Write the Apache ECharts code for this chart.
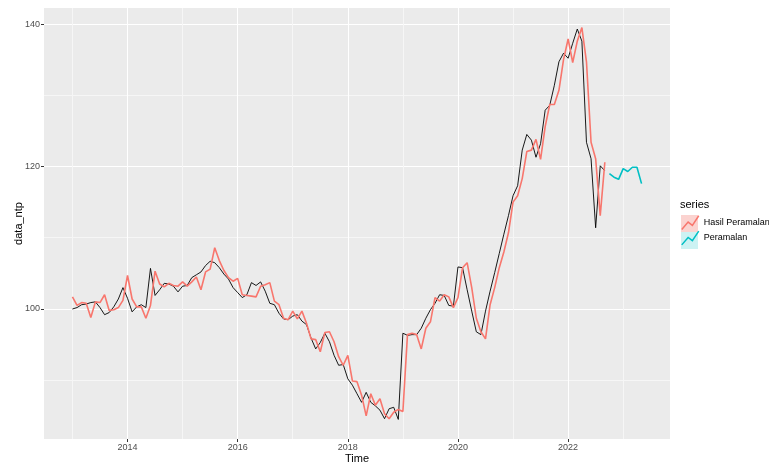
<!DOCTYPE html>
<html>
<head>
<meta charset="utf-8">
<script src="https://cdn.jsdelivr.net/npm/echarts@6/dist/echarts.min.js"></script>
<style>
  html, body {margin: 0; padding: 0; background: #fff;}
  #chart {width: 769px; height: 464px;}
</style>
</head>
<body>
<div id="chart"></div>
<script>
// monthly series, first point = Jan 2013
const startYear = 2013
const actual = [
  100.0, 100.2, 100.6, 100.7, 100.9, 101.0, 100.2, 99.2, 99.5, 100.3, 101.4, 103.0,
  101.5, 99.6, 100.3, 100.6, 100.2, 105.7, 101.9, 102.7, 103.6, 103.5, 103.2, 102.4,
  103.2, 103.3, 104.4, 104.8, 105.2, 106.1, 106.7, 106.5, 105.8, 104.9, 104.2, 103.0,
  102.3, 101.6, 102.0, 103.7, 103.3, 103.8, 102.5, 100.8, 100.6, 99.4, 98.6, 98.5,
  99.0, 99.2, 98.3, 97.8, 95.9, 94.4, 95.3, 96.6, 95.4, 93.5, 92.1, 92.2,
  90.2, 89.3, 88.1, 86.9, 88.3, 86.9, 86.4, 85.8, 84.6, 86.0, 86.2, 84.5,
  96.6, 96.3, 96.4, 96.4, 97.3, 98.7, 99.9, 100.8, 102.0, 101.9, 100.5, 100.4,
  105.9, 105.8, 102.7, 99.7, 96.8, 96.4, 99.7, 102.5, 105.1, 107.8, 110.5, 113.1,
  115.9, 117.3, 122.3, 124.5, 123.7, 121.3, 123.2, 127.9, 128.6, 131.4, 134.7, 135.9,
  135.2, 137.3, 139.3, 137.6, 123.4, 121.1, 111.4, 120.1, 119.4
]
const fitted = [
  101.7, 100.5, 100.9, 100.8, 98.8, 101.0, 100.9, 102.0, 99.8, 99.9, 100.2, 101.2,
  104.7, 101.4, 100.3, 100.3, 98.7, 100.5, 105.3, 103.5, 103.1, 103.6, 103.3, 103.2,
  103.8, 103.2, 103.8, 104.5, 102.7, 105.2, 105.6, 108.6, 106.8, 105.4, 104.4, 103.9,
  104.3, 102.0, 101.9, 101.8, 101.7, 103.2, 103.4, 103.7, 101.1, 100.6, 98.7, 98.5,
  99.7, 98.6, 99.7, 98.0, 95.8, 95.7, 94.0, 96.7, 96.8, 95.4, 93.3, 92.1,
  93.5, 89.9, 89.8, 87.9, 85.0, 88.1, 86.5, 87.4, 85.3, 84.6, 85.5, 85.9,
  85.6, 96.4, 96.6, 96.4, 94.4, 97.3, 98.2, 101.6, 101.1, 102.0, 101.7, 100.2,
  101.6, 105.8, 106.5, 103.0, 98.7, 96.8, 95.8, 100.6, 103.0, 105.8, 108.0, 110.7,
  115.0, 115.9, 118.3, 122.1, 122.3, 123.8, 121.0, 125.6, 128.7, 128.7, 130.7, 135.0,
  137.9, 134.6, 137.6, 139.5, 134.7, 123.4, 121.1, 113.1, 120.6
]
// forecast starts the month after the last actual value
const forecast = [119.0, 118.5, 118.2, 119.7, 119.3, 119.9, 119.9, 117.6]

const xMajor = [2014, 2016, 2018, 2020, 2022]
const xMinor = [2013, 2015, 2017, 2019, 2021, 2023]
const yMajor = [100, 120, 140]
const yMinor = [90, 110, 130]

const toPoints = (arr, offset) => arr.map((v, i) => [startYear + (offset + i) / 12, v])
const actualPts = toPoints(actual, 0)
const fittedPts = toPoints(fitted, 0)
const forecastPts = toPoints(forecast, actual.length)

// ggplot-like 5% expansion of the data range
const allPts = actualPts.concat(fittedPts, forecastPts)
const xs = allPts.map(p => p[0]), ys = allPts.map(p => p[1])
const xLo = Math.min(...xs), xHi = Math.max(...xs)
const yLo = Math.min(...ys), yHi = Math.max(...ys)
const xPad = (xHi - xLo) * 0.05, yPad = (yHi - yLo) * 0.05

const font = 'Liberation Sans, Arial, sans-serif'
const zigzag = 'path://M0,15L6,8L10,11L16,2'
const plain = v => String(v)

const baseX = {
  type: 'value', min: xLo - xPad, max: xHi + xPad,
  axisLine: {show: false}
}
const baseY = {
  type: 'value', min: yLo - yPad, max: yHi + yPad,
  axisLine: {show: false}
}

const chart = echarts.init(document.getElementById('chart'))
chart.setOption({
  animation: false,
  backgroundColor: '#fff',
  textStyle: {fontFamily: font},
  title: {
    text: 'series', left: 680, top: 199, padding: 0,
    textStyle: {fontSize: 11, fontWeight: 'normal', color: '#000', fontFamily: font}
  },
  grid: {
    left: 44, right: 99, top: 8, bottom: 25,
    outerBoundsMode: 'none', containLabel: false,
    show: true, backgroundColor: '#EBEBEB', borderWidth: 0
  },
  xAxis: [
    {
      ...baseX,
      name: 'Time', nameLocation: 'middle', nameGap: 14, nameMoveOverlap: false,
      nameTextStyle: {fontSize: 11, color: '#000', fontFamily: font},
      axisTick: {show: true, length: 3, lineStyle: {color: '#333'}, customValues: xMajor},
      axisLabel: {customValues: xMajor, formatter: plain, fontSize: 9, color: '#4D4D4D', margin: 4, fontFamily: font},
      splitLine: {show: true, lineStyle: {color: '#fff', width: 1}}
    },
    {
      ...baseX,
      position: 'top',
      axisTick: {show: false, customValues: xMinor},
      axisLabel: {show: false, customValues: xMinor},
      splitLine: {show: true, lineStyle: {color: '#F6F6F6', width: 1}}
    }
  ],
  yAxis: [
    {
      ...baseY,
      name: 'data_ntp', nameLocation: 'middle', nameGap: 20, nameMoveOverlap: false,
      nameTextStyle: {fontSize: 11, color: '#000', fontFamily: font},
      axisTick: {show: true, length: 3, lineStyle: {color: '#333'}, customValues: yMajor},
      axisLabel: {customValues: yMajor, formatter: plain, fontSize: 9, color: '#4D4D4D', margin: 4, fontFamily: font},
      splitLine: {show: true, lineStyle: {color: '#fff', width: 1}}
    },
    {
      ...baseY,
      position: 'right',
      axisTick: {show: false, customValues: yMinor},
      axisLabel: {show: false, customValues: yMinor},
      splitLine: {show: true, lineStyle: {color: '#F6F6F6', width: 1}}
    }
  ],
  legend: [
    {
      // key backgrounds
      orient: 'vertical', left: 681, top: 215, padding: 0,
      itemWidth: 17, itemHeight: 17, itemGap: 0, selectedMode: false,
      icon: 'rect',
      textStyle: {fontSize: 9, color: 'transparent', fontFamily: font},
      data: [
        {name: 'Hasil Peramalan', itemStyle: {color: '#FBD3D0', borderWidth: 0}},
        {name: 'Peramalan', itemStyle: {color: '#CCF2F3', borderWidth: 0}}
      ]
    },
    {
      // zigzag line keys + labels
      orient: 'vertical', left: 681, top: 215, padding: 0,
      itemWidth: 17, itemHeight: 17, itemGap: 0, selectedMode: false,
      textStyle: {fontSize: 9, color: '#000', fontFamily: font},
      data: [
        {name: 'Hasil Peramalan', icon: zigzag,
          itemStyle: {color: 'transparent', borderColor: '#F8766D', borderWidth: 1.5}},
        {name: 'Peramalan', icon: zigzag,
          itemStyle: {color: 'transparent', borderColor: '#00BFC4', borderWidth: 1.5}}
      ]
    }
  ],
  series: [
    {
      name: 'data_ntp', type: 'line', data: actualPts,
      showSymbol: false, lineStyle: {color: '#000', width: 0.9}, itemStyle: {color: '#000'}
    },
    {
      name: 'Hasil Peramalan', type: 'line', data: fittedPts,
      showSymbol: false, lineStyle: {color: '#F8766D', width: 1.6}, itemStyle: {color: '#F8766D'}
    },
    {
      name: 'Peramalan', type: 'line', data: forecastPts,
      showSymbol: false, lineStyle: {color: '#00BFC4', width: 1.6}, itemStyle: {color: '#00BFC4'}
    }
  ]
})
</script>
</body>
</html>
